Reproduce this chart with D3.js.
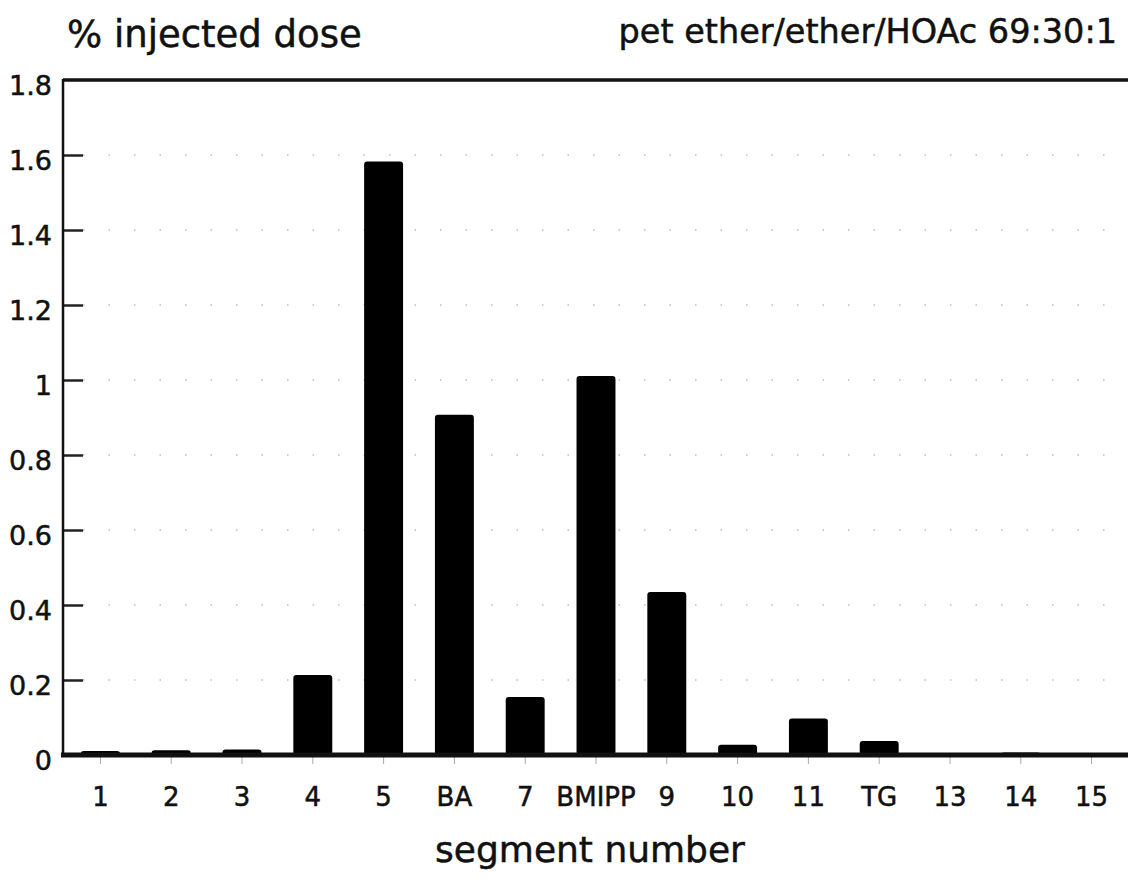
<!DOCTYPE html>
<html>
<head>
<meta charset="utf-8">
<script src="https://cdn.jsdelivr.net/npm/d3@7"></script>
<style>
  html, body { margin: 0; padding: 0; background: #fff; }
  svg { display: block; }
  text { font-family: "DejaVu Sans", "Liberation Sans", sans-serif; fill: #111; stroke: #111; stroke-width: 0.5; }
</style>
</head>
<body>
<div id="chart"></div>
<script>
const width = 1128,
  height = 883,
  margin = { left: 63, right: 0, top: 80, bottom: 128 };

const segments = ["1", "2", "3", "4", "5", "BA", "7", "BMIPP", "9", "10", "11", "TG", "13", "14", "15"];
const dose = [0.008, 0.01, 0.012, 0.211, 1.58, 0.905, 0.152, 1.008, 0.432, 0.025, 0.095, 0.035, 0.003, 0.004, 0.003];
const yTicks = [0, 0.2, 0.4, 0.6, 0.8, 1, 1.2, 1.4, 1.6, 1.8];
const yTickLabels = ["0", "0.2", "0.4", "0.6", "0.8", "1", "1.2", "1.4", "1.6", "1.8"];

const xScale = d3
  .scaleBand()
  .domain(segments)
  .range([65, 1127])
  .paddingInner(0.45)
  .paddingOuter(0.225);

const yScale = d3
  .scaleLinear()
  .domain([0, 1.8])
  .range([height - margin.bottom, margin.top]);

const svg = d3
  .select("#chart")
  .append("svg")
  .attr("width", width)
  .attr("height", height);

// faint dotted grid
svg
  .append("g")
  .selectAll("line")
  .data(yTicks.filter((d) => d > 0 && d < 1.8))
  .enter()
  .append("line")
  .attr("x1", margin.left + 20)
  .attr("x2", width)
  .attr("y1", (d) => yScale(d))
  .attr("y2", (d) => yScale(d))
  .attr("stroke", "#bdbdbd")
  .attr("stroke-width", 1.5)
  .attr("stroke-dasharray", "1.5,24");

// bars
svg
  .append("g")
  .selectAll("rect")
  .data(segments.map((s, i) => ({ s, v: dose[i] })))
  .enter()
  .append("rect")
  .attr("x", (d) => xScale(d.s))
  .attr("y", (d) => yScale(d.v) - 1)
  .attr("width", xScale.bandwidth())
  .attr("height", (d) => yScale(0) - yScale(d.v) + 1)
  .attr("rx", 3)
  .attr("fill", "#000");

// y axis
const yAxis = svg
  .append("g")
  .attr("transform", `translate(${margin.left},0)`)
  .call(
    d3
      .axisRight(yScale)
      .tickValues(yTicks)
      .tickSize(20)
      .tickFormat("")
  );
yAxis.select(".domain").remove();
yAxis.selectAll(".tick line").attr("stroke", "#222").attr("stroke-width", 2.5);
yAxis.selectAll(".tick").filter((d) => d === 0 || d === 1.8).remove();

svg
  .append("g")
  .selectAll("text")
  .data(yTicks)
  .enter()
  .append("text")
  .attr("x", 52)
  .attr("y", (d) => yScale(d) + 7)
  .attr("text-anchor", "end")
  .attr("dominant-baseline", "middle")
  .attr("font-size", 27)
  .text((d, i) => yTickLabels[i]);

// x axis ticks + labels
const xAxis = svg
  .append("g")
  .attr("transform", `translate(0,${yScale(0)})`)
  .call(d3.axisBottom(xScale).tickSize(9).tickPadding(24));
xAxis.select(".domain").remove();
xAxis.selectAll(".tick line").attr("stroke", "#aaa").attr("stroke-width", 1);
xAxis
  .selectAll(".tick text")
  .attr("font-size", 26)
  .attr("font-family", "DejaVu Sans, sans-serif")
  .attr("fill", "#111");

// frame lines
svg
  .append("line")
  .attr("x1", margin.left)
  .attr("x2", width)
  .attr("y1", yScale(1.8))
  .attr("y2", yScale(1.8))
  .attr("stroke", "#111")
  .attr("stroke-width", 3.5);

svg
  .append("line")
  .attr("x1", margin.left)
  .attr("x2", margin.left)
  .attr("y1", yScale(1.8) - 1)
  .attr("y2", yScale(0) + 2)
  .attr("stroke", "#111")
  .attr("stroke-width", 2.5);

svg
  .append("line")
  .attr("x1", margin.left - 2)
  .attr("x2", width)
  .attr("y1", yScale(0))
  .attr("y2", yScale(0))
  .attr("stroke", "#111")
  .attr("stroke-width", 5);

// titles
svg
  .append("text")
  .attr("x", 67)
  .attr("y", 47)
  .attr("font-size", 37)
  .text("% injected dose");

svg
  .append("text")
  .attr("x", 1117)
  .attr("y", 43)
  .attr("text-anchor", "end")
  .attr("font-size", 33.5)
  .text("pet ether/ether/HOAc 69:30:1");

svg
  .append("text")
  .attr("x", 590)
  .attr("y", 862)
  .attr("text-anchor", "middle")
  .attr("font-size", 36)
  .text("segment number");
</script>
</body>
</html>
